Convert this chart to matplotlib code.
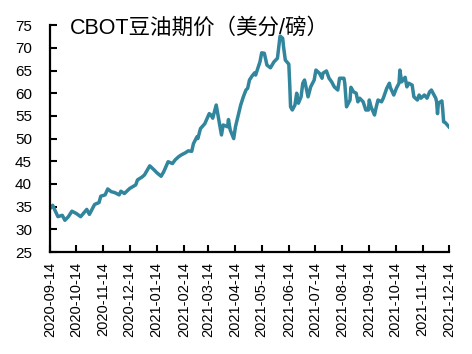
# CBOT豆油期价 折线图
import pandas as pd
import matplotlib
matplotlib.use('Agg')
import matplotlib.pyplot as plt

plt.rcParams['font.family'] = ['Liberation Sans', 'Noto Sans CJK SC', 'DejaVu Sans']

# 数据
dates = [
    '2020-09-14', '2020-09-17', '2020-09-23', '2020-09-28', '2020-10-01', '2020-10-05',
    '2020-10-09', '2020-10-14', '2020-10-19', '2020-10-26', '2020-10-29', '2020-11-04',
    '2020-11-09', '2020-11-11', '2020-11-16', '2020-11-19', '2020-11-23', '2020-11-27',
    '2020-12-02', '2020-12-04', '2020-12-08', '2020-12-14', '2020-12-21', '2020-12-23',
    '2020-12-28', '2020-12-31', '2021-01-06', '2021-01-11', '2021-01-14', '2021-01-19',
    '2021-01-22', '2021-01-27', '2021-02-01', '2021-02-04', '2021-02-08', '2021-02-11',
    '2021-02-16', '2021-02-19', '2021-02-23', '2021-02-25', '2021-03-01', '2021-03-02',
    '2021-03-05', '2021-03-10', '2021-03-15', '2021-03-17', '2021-03-19', '2021-03-23',
    '2021-03-26', '2021-03-29', '2021-03-31', '2021-04-05', '2021-04-06', '2021-04-08',
    '2021-04-12', '2021-04-14', '2021-04-16', '2021-04-20', '2021-04-23', '2021-04-26',
    '2021-04-28', '2021-04-30', '2021-05-03', '2021-05-06', '2021-05-07', '2021-05-12',
    '2021-05-14', '2021-05-17', '2021-05-20', '2021-05-24', '2021-05-28', '2021-06-01',
    '2021-06-03', '2021-06-04', '2021-06-07', '2021-06-08', '2021-06-10', '2021-06-14',
    '2021-06-15', '2021-06-16', '2021-06-18', '2021-06-21', '2021-06-23', '2021-06-25',
    '2021-06-28', '2021-06-30', '2021-07-02', '2021-07-06', '2021-07-09', '2021-07-13',
    '2021-07-15', '2021-07-19', '2021-07-22', '2021-07-23', '2021-07-27', '2021-07-30',
    '2021-08-02', '2021-08-05', '2021-08-09', '2021-08-11', '2021-08-16', '2021-08-17',
    '2021-08-19', '2021-08-23', '2021-08-24', '2021-08-27', '2021-08-30', '2021-09-01',
    '2021-09-03', '2021-09-07', '2021-09-10', '2021-09-13', '2021-09-14', '2021-09-16',
    '2021-09-20', '2021-09-22', '2021-09-24', '2021-09-28', '2021-09-30', '2021-10-04',
    '2021-10-07', '2021-10-08', '2021-10-12', '2021-10-15', '2021-10-18', '2021-10-19',
    '2021-10-21', '2021-10-25', '2021-10-27', '2021-10-29', '2021-11-02', '2021-11-04',
    '2021-11-08', '2021-11-10', '2021-11-12', '2021-11-16', '2021-11-19', '2021-11-22',
    '2021-11-24', '2021-11-29', '2021-11-30', '2021-12-01', '2021-12-02', '2021-12-06',
    '2021-12-07', '2021-12-08', '2021-12-10', '2021-12-14',
]
prices = [
    34.6, 35.3, 32.8, 33.1, 32.0, 32.8,
    34.0, 33.5, 32.8, 34.4, 33.3, 35.5,
    35.9, 37.3, 37.6, 38.9, 38.3, 38.1,
    37.6, 38.4, 37.9, 39.0, 39.8, 40.9,
    41.5, 42.0, 44.0, 43.1, 42.5, 41.7,
    42.7, 44.9, 44.5, 45.3, 46.0, 46.4,
    46.9, 47.3, 47.2, 48.9, 50.4, 50.0,
    52.2, 53.3, 55.5, 55.2, 54.5, 57.4,
    54.1, 50.8, 53.0, 52.6, 54.2, 51.9,
    50.0, 52.6, 54.2, 57.4, 59.2, 60.7,
    61.1, 62.9, 63.8, 64.5, 64.0, 66.9,
    68.9, 68.8, 66.2, 65.6, 66.9, 67.7,
    71.0, 72.6, 72.1, 70.2, 67.3, 66.4,
    62.2, 57.0, 56.3, 57.4, 60.0, 57.8,
    59.2, 62.2, 62.9, 59.2, 61.4, 62.9,
    65.1, 64.4, 63.3, 64.4, 64.9, 63.3,
    62.5, 61.4, 60.7, 63.3, 63.3, 62.2,
    57.0, 58.5, 61.3, 60.3, 60.0, 58.1,
    58.9, 58.1, 56.3, 56.3, 58.5, 57.0,
    55.2, 57.0, 58.5, 58.1, 58.9, 61.1,
    62.2, 61.3, 59.6, 61.1, 62.2, 65.1,
    62.5, 63.5, 61.4, 62.2, 61.8, 59.2,
    58.5, 59.6, 58.9, 59.6, 58.9, 60.3,
    60.7, 58.9, 58.1, 55.5, 57.8, 58.3,
    56.3, 53.7, 53.5, 52.6,
]
tick_labels = [
    '2020-09-14', '2020-10-14', '2020-11-14', '2020-12-14', '2021-01-14',
    '2021-02-14', '2021-03-14', '2021-04-14', '2021-05-14', '2021-06-14',
    '2021-07-14', '2021-08-14', '2021-09-14', '2021-10-14', '2021-11-14',
    '2021-12-14',
]
title = 'CBOT豆油期价（美分/磅）'

df = pd.DataFrame({'date': pd.to_datetime(dates), 'price': prices})
ticks = pd.to_datetime(tick_labels)

fig = plt.figure(figsize=(4.72, 3.54), dpi=100)
ax = fig.add_axes([0.106, 0.288, 0.845, 0.641])

ax.plot(df['date'], df['price'], color='#31859C', linewidth=2.5)

ax.set_xlim(ticks[0], ticks[-1])
ax.set_ylim(25, 75)
ax.set_yticks(range(25, 80, 5))
ax.set_xticks(ticks)
ax.set_xticklabels(tick_labels, rotation=90)

for s in ['top', 'right']:
    ax.spines[s].set_visible(False)
for s in ['left', 'bottom']:
    ax.spines[s].set_linewidth(1.6)
ax.tick_params(axis='x', direction='in', length=5, width=1.5, pad=7, labelsize=10.5)
ax.tick_params(axis='y', direction='in', length=5, width=1.5, pad=13, labelsize=11)

fig.text(0.148, 0.921, title, fontsize=15.5, va='center', ha='left')

fig.savefig('out.png', dpi=100)
